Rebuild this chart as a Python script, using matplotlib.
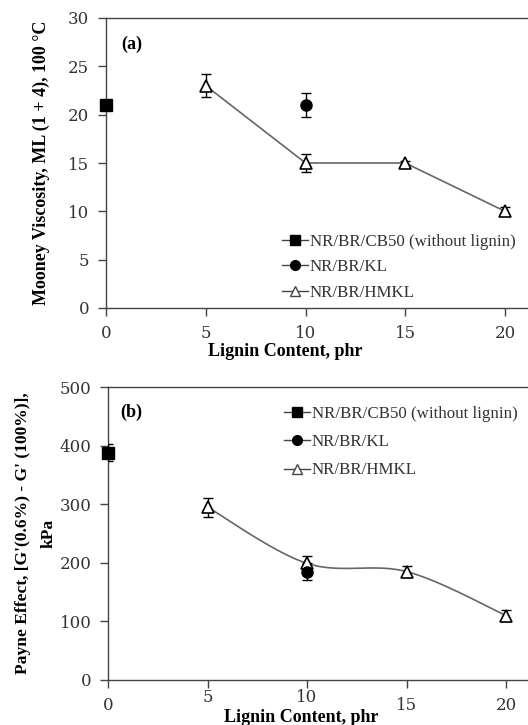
import numpy as np
import matplotlib
matplotlib.use("Agg")
import matplotlib.pyplot as plt
from matplotlib.lines import Line2D
import matplotlib.transforms as mtransforms

plt.rcParams['font.family'] = ['Liberation Serif', 'DejaVu Serif']

# ---- data ----
x_ticks = [0, 5, 10, 15, 20]
series_names = ["NR/BR/CB50 (without lignin)", "NR/BR/KL", "NR/BR/HMKL"]

# (a) Mooney viscosity
cb_x_a, cb_y_a, cb_e_a = [0], [21.0], [0.4]
kl_x_a, kl_y_a, kl_e_a = [10], [21.0], [1.2]
hm_x_a = [5, 10, 15, 20]
hm_y_a = [23.0, 15.0, 15.0, 10.0]
hm_e_a = [1.2, 0.9, 0.2, 0.4]

# (b) Payne effect
cb_x_b, cb_y_b, cb_e_b = [0], [388], [14]
kl_x_b, kl_y_b, kl_e_b = [10], [185], [15]
hm_x_b = [5, 10, 15, 20]
hm_y_b = [295, 199, 185, 110]
hm_e_b = [16, 13, 9, 10]

W, H = 528, 725
fig = plt.figure(figsize=(W / 100, H / 100), dpi=100)

def frac_axes(left_px, top_px, right_px, bottom_px):
    return fig.add_axes([left_px / W, 1 - bottom_px / H,
                         (right_px - left_px) / W, (bottom_px - top_px) / H])

def smooth(xs, ys, n=40):
    # Bezier smoothing through the data points (Excel-like smoothed line)
    xs = np.asarray(xs, float); ys = np.asarray(ys, float)
    P = np.column_stack([xs, ys])
    P = np.vstack([P[0], P, P[-1]])
    out = []
    for i in range(1, len(P) - 2):
        p0, p1, p2, p3 = P[i - 1], P[i], P[i + 1], P[i + 2]
        t = np.linspace(0, 1, n)[:, None]
        c1 = p1 + (p2 - p0) / 6.0
        c2 = p2 - (p3 - p1) / 6.0
        seg = ((1 - t) ** 3) * p1 + 3 * ((1 - t) ** 2) * t * c1 + 3 * (1 - t) * t ** 2 * c2 + t ** 3 * p2
        out.append(seg)
    seg = np.vstack(out)
    return seg[:, 0], seg[:, 1]

axcol = '#444444'
txtcol = '#333333'
tick_fs = 12
lab_fs = 13
leg_fs = 12.2

def style(ax, ylim, yticks, xmax):
    ax.set_xlim(0, xmax)
    ax.set_ylim(*ylim)
    ax.set_xticks(x_ticks)
    ax.set_yticks(yticks)
    ax.spines['right'].set_visible(False)
    for s in ['left', 'bottom', 'top']:
        ax.spines[s].set_color(axcol)
        ax.spines[s].set_linewidth(1.0)
    ax.tick_params(direction='out', length=6, width=1.0, color=axcol,
                   labelsize=tick_fs, labelcolor=txtcol, pad=6)
    for lab in ax.get_xticklabels() + ax.get_yticklabels():
        lab.set_family(['DejaVu Serif'])

def draw(ax, cb, kl, hm, smooth_line):
    ekw = dict(ecolor='black', elinewidth=1.0, capsize=3.5, capthick=1.0, ls='none', zorder=3)
    ax.errorbar(hm[0], hm[1], yerr=hm[2], **ekw)
    ax.errorbar(cb[0], cb[1], yerr=cb[2], **ekw)
    ax.errorbar(kl[0], kl[1], yerr=kl[2], **ekw)
    if smooth_line:
        sx, sy = smooth(hm[0], hm[1])
    else:
        sx, sy = hm[0], hm[1]
    ax.plot(sx, sy, color='#666666', lw=1.2, zorder=2)
    ax.plot(hm[0], hm[1], ls='none', marker='^', ms=8, mfc='white', mec='black', mew=1.2, zorder=4, clip_on=False)
    ax.plot(cb[0], cb[1], ls='none', marker='s', ms=8, color='black', zorder=4, clip_on=False)
    ax.plot(kl[0], kl[1], ls='none', marker='o', ms=8, color='black', zorder=4, clip_on=False)

def legend(ax, loc, anchor, spacing):
    handles = [
        Line2D([], [], color='#444444', lw=1.0, marker='s', ms=7, mfc='black', mec='black'),
        Line2D([], [], color='#444444', lw=1.0, marker='o', ms=7, mfc='black', mec='black'),
        Line2D([], [], color='#444444', lw=1.0, marker='^', ms=7, mfc='white', mec='#444444'),
    ]
    lg = ax.legend(handles, series_names, loc=loc, bbox_to_anchor=anchor, frameon=False,
                   fontsize=leg_fs, handlelength=1.5, handletextpad=0.1,
                   labelspacing=spacing, borderaxespad=0, borderpad=0)
    for t in lg.get_texts():
        t.set_color(txtcol)

# ---- panel (a) ----
ax1 = frac_axes(106, 18, 528, 308)
style(ax1, (0, 30), [0, 5, 10, 15, 20, 25, 30], 21.15)
draw(ax1, (cb_x_a, cb_y_a, cb_e_a), (kl_x_a, kl_y_a, kl_e_a), (hm_x_a, hm_y_a, hm_e_a), False)
ax1.text(0.036, 0.91, '(a)', transform=ax1.transAxes, fontsize=13, fontweight='bold', ha='left', va='center')
legend(ax1, 'lower left', (0.418, 0.025), 0.56)
ax1.set_xlabel('Lignin Content, phr', fontsize=lab_fs, fontweight='bold', labelpad=1, x=0.425)
ax1.set_ylabel('Mooney Viscosity, ML (1 + 4), 100 °C', fontsize=lab_fs, fontweight='bold', labelpad=13)

# ---- panel (b) ----
ax2 = frac_axes(108, 387, 528, 680)
style(ax2, (0, 500), [0, 100, 200, 300, 400, 500], 21.1)
draw(ax2, (cb_x_b, cb_y_b, cb_e_b), (kl_x_b, kl_y_b, kl_e_b), (hm_x_b, hm_y_b, hm_e_b), True)
ax2.text(0.03, 0.915, '(b)', transform=ax2.transAxes, fontsize=13, fontweight='bold', ha='left', va='center')
legend(ax2, 'upper left', (0.42, 0.935), 0.72)
# raise the "5" and "10" tick labels as in the reference
raise_tf = mtransforms.ScaledTranslation(0, 8 / 100, fig.dpi_scale_trans)
for lab in ax2.get_xticklabels():
    if lab.get_text() in ('5', '10'):
        lab.set_transform(lab.get_transform() + raise_tf)
ax2.set_xlabel('Lignin Content, phr', fontsize=lab_fs, fontweight='bold', labelpad=-3, x=0.46)
ax2.set_ylabel("Payne Effect, [G'(0.6%) - G' (100%)],\nkPa", fontsize=12.6, fontweight='bold',
               labelpad=2, linespacing=1.8)

fig.savefig('out.png', dpi=100)
